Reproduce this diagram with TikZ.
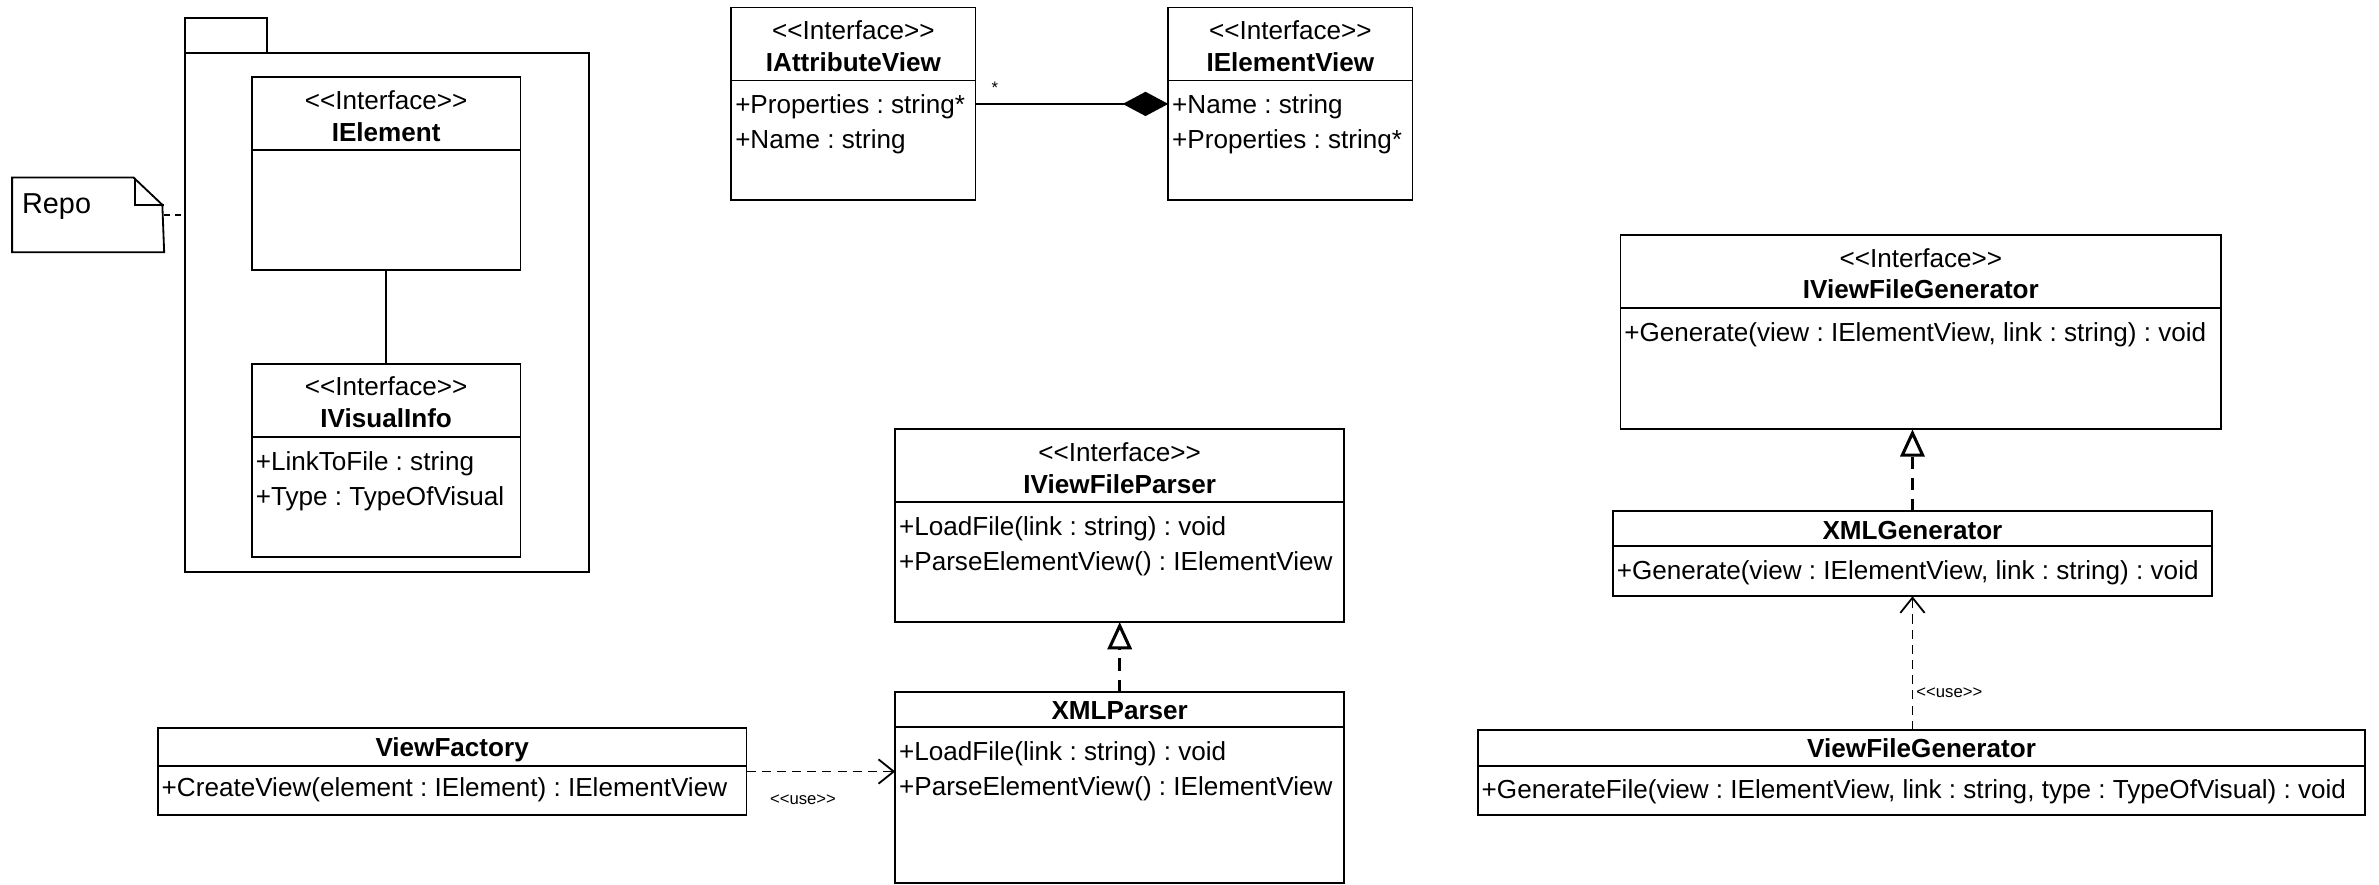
\documentclass[tikz,border=0pt]{standalone}
\usepackage{fontspec}
\setmainfont{Liberation Sans}[Ligatures=TeXOff]
\usetikzlibrary{arrows.meta}
\frenchspacing

\begin{document}
\begin{tikzpicture}[x=0.5pt,y=-0.5pt,line width=0.6pt,font=\fontsize{8.6}{11}\selectfont]
    \tikzstyle{classbox}=[draw,anchor=north west,inner sep=0pt,outer sep=0pt]
    \tikzstyle{member}=[inner sep=0pt,anchor=base west]
    \tikzstyle{stereo}=[inner sep=0pt,anchor=base]
    \tikzstyle{cname}=[inner sep=0pt,anchor=base,font=\fontsize{8.6}{11}\selectfont\bfseries]
    \tikzstyle{small}=[inner sep=1pt,font=\fontsize{5.5}{6}\selectfont]
    \tikzstyle{usedep}=[dash pattern=on 3pt off 2pt,-{Straight Barb[length=5pt,width=8pt]}]
    \tikzstyle{realize}=[line width=1pt,dash pattern=on 4pt off 3pt,-{Triangle[open,length=9pt,width=8pt]}]

    \useasboundingbox (0,0) rectangle (1568,583);

    % package and its tab
    \node[classbox,minimum width=133pt,minimum height=171pt] (pkg) at (122,35) {};
    \draw (pkg.north west) rectangle ++(54,-23);

    % note
    \node[anchor=north west,inner sep=0pt,minimum width=49.5pt,minimum height=24pt] (repo) at (8,117) {};
    \draw (repo.south west) -- (repo.north west) -- ++(80,0) -- ++(19,18) -- (repo.south east) -- cycle;
    \draw (repo.north east) ++(-19,0) |- ++(19,18);
    \node[member,font=\fontsize{9.5}{11}\selectfont] (repo-t) at (14,141) {Repo};

    % classes: name/x/y/width/height/separator
    \foreach \name/\x/\y/\w/\h/\s in {ielem/166/51/177/127/48, ivis/166/240/177/127/48,
            iattr/482/5/161/127/48, ielv/770/5/161/127/48, iparser/590/283/296/127/48,
            xmlparser/590/456/296/126/23, factory/104/480/388/57/25, igen/1068/155/396/128/48,
            xmlgen/1063/337/395/56/23, filegen/974/481/585/56/24}
    {
        \node[classbox,minimum width=\w*0.5pt,minimum height=\h*0.5pt] (\name) at (\x,\y) {};
        \draw (\x,\y+\s) -- (\x+\w,\y+\s);
    }

    \foreach \name/\x/\y in {ielem/254.5/72, ivis/254.5/261, iattr/562.5/26, ielv/850.5/26,
            iparser/738/304, igen/1266/176}
        \node[stereo] (\name-s) at (\x,\y) {<<Interface>>};

    \foreach \name/\x/\y/\t in {ielem/254.5/93/IElement, ivis/254.5/282/IVisualInfo,
            iattr/562.5/47/IAttributeView, ielv/850.5/47/IElementView,
            iparser/738/325/IViewFileParser, xmlparser/738/474.5/XMLParser,
            factory/298/498.5/ViewFactory, igen/1266/197/IViewFileGenerator,
            xmlgen/1260.5/355.5/XMLGenerator, filegen/1266.5/499.5/ViewFileGenerator}
        \node[cname] (\name-t) at (\x,\y) {\t};

    \foreach \name/\x/\y/\t in {ivis-a1/168/310/{+LinkToFile : string}, ivis-a2/168/333/{+Type : TypeOfVisual},
            iattr-a1/484/75/{+Properties : string*}, iattr-a2/484/98/{+Name : string},
            ielv-a1/772/75/{+Name : string}, ielv-a2/772/98/{+Properties : string*},
            iparser-a1/592/353/{+LoadFile(link : string) : void}, iparser-a2/592/376/{+ParseElementView() : IElementView},
            xmlparser-a1/592/501/{+LoadFile(link : string) : void}, xmlparser-a2/592/524/{+ParseElementView() : IElementView},
            factory-a1/106/525/{+CreateView(element : IElement) : IElementView},
            igen-a1/1070/225/{+Generate(view : IElementView, link : string) : void},
            xmlgen-a1/1065/382/{+Generate(view : IElementView, link : string) : void},
            filegen-a1/976/526/{+GenerateFile(view : IElementView, link : string, type : TypeOfVisual) : void}}
        \node[member] (\name) at (\x,\y) {\t};

    % connectors
    \draw[dash pattern=on 2pt off 1.5pt] (repo.east) -- (repo.east -| pkg.west);
    \draw (ielem.south) -- (ivis.north);
    \draw[-{Diamond[length=15pt,width=8pt]}] (iattr.east) -- node[small,pos=0.1,above=2pt] (mult) {*} (ielv.west);
    \draw[realize] (xmlparser.north) -- (iparser.south);
    \draw[realize] (xmlgen.north) -- (xmlgen.north |- igen.south);
    \draw[usedep] (factory.east) -- node[small,pos=0.38,below=6.5pt] (use1) {<<use>>} (factory.east -| xmlparser.west);
    \draw[usedep] (xmlgen.south |- filegen.north) -- node[small,pos=0.28,right=0pt] (use2) {<<use>>} (xmlgen.south);
\end{tikzpicture}
\end{document}
